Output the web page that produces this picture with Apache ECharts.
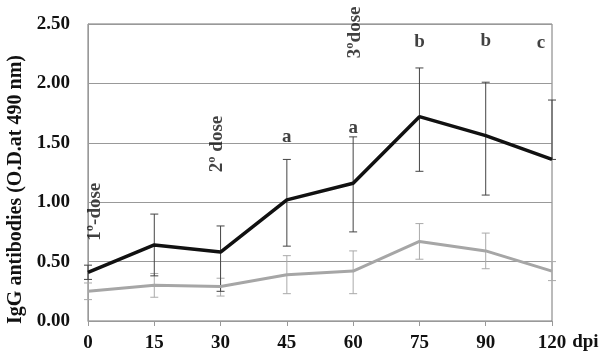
<!DOCTYPE html>
<html>
<head>
<meta charset="utf-8">
<script src="https://cdn.jsdelivr.net/npm/echarts@6/dist/echarts.min.js"></script>
<style>
  html, body { margin: 0; padding: 0; background: #fff; }
  #chart { width: 608px; height: 358px; }
</style>
</head>
<body>
<div id="chart"></div>
<script>
(function() {
  const days = ['0', '15', '30', '45', '60', '75', '90', '120'];

  // black curve (mean, lower, upper)
  const blackMean = [0.41, 0.64, 0.58, 1.02, 1.16, 1.72, 1.56, 1.36];
  const blackLow = [0.35, 0.38, 0.25, 0.63, 0.75, 1.26, 1.06, 1.36];
  const blackHigh = [0.47, 0.90, 0.80, 1.36, 1.55, 2.13, 2.01, 1.86];

  // gray curve (mean, lower, upper)
  const grayMean = [0.25, 0.30, 0.29, 0.39, 0.42, 0.67, 0.59, 0.42];
  const grayLow = [0.18, 0.20, 0.21, 0.23, 0.23, 0.52, 0.44, 0.34];
  const grayHigh = [0.32, 0.40, 0.36, 0.55, 0.59, 0.82, 0.74, 0.50];

  // significance letters
  const letterDays = ['45', '60', '75', '90', '120'];
  const letterText = ['a', 'a', 'b', 'b', 'c'];
  const letterY = [1.55, 1.62, 2.35, 2.36, 2.34];

  // dose annotations
  const doseDays = ['0', '30', '60'];
  const doseText = ['1º-dose', '2º dose', '3ºdose'];
  const doseY = [0.92, 1.49, 2.43];

  const serif = '"Liberation Serif", "DejaVu Serif", serif';
  const chart = echarts.init(document.getElementById('chart'));

  function errorBars(low, high, color) {
    return {
      type: 'custom',
      silent: true,
      z: 1,
      data: days.map((d, i) => [i, low[i], high[i]]),
      renderItem: function(params, api) {
        const lo = api.coord([api.value(0), api.value(1)]);
        const hi = api.coord([api.value(0), api.value(2)]);
        const w = 4;
        const style = { stroke: color, lineWidth: 1 };
        return {
          type: 'group',
          children: [
            { type: 'line', shape: { x1: lo[0], y1: lo[1], x2: hi[0], y2: hi[1] }, style: style },
            { type: 'line', shape: { x1: lo[0] - w, y1: lo[1], x2: lo[0] + w, y2: lo[1] }, style: style },
            { type: 'line', shape: { x1: hi[0] - w, y1: hi[1], x2: hi[0] + w, y2: hi[1] }, style: style }
          ]
        };
      }
    };
  }

  const option = {
    animation: false,
    backgroundColor: '#fff',
    grid: {
      left: 88, right: 56, top: 24, bottom: 37,
      outerBoundsMode: 'none',
      show: true, borderColor: '#777', borderWidth: 1
    },
    xAxis: {
      type: 'category',
      data: days,
      boundaryGap: false,
      name: 'dpi',
      nameLocation: 'end',
      nameGap: 8,
      nameTextStyle: {
        fontFamily: serif, fontWeight: 'bold', fontSize: 19, color: '#111',
        verticalAlign: 'top', padding: [12, 0, 0, 0]
      },
      axisLine: { lineStyle: { color: '#999' } },
      axisTick: { length: 5, lineStyle: { color: '#999' } },
      axisLabel: {
        fontFamily: serif, fontWeight: 'bold', fontSize: 19, color: '#111', margin: 13
      },
      splitLine: { show: false }
    },
    yAxis: {
      type: 'value',
      min: 0, max: 2.5, interval: 0.5,
      name: 'IgG antibodies (O.D.at 490 nm)',
      nameLocation: 'middle',
      nameGap: 62,
      nameTextStyle: {
        fontFamily: serif, fontWeight: 'bold', fontSize: 20, color: '#111',
        padding: [0, 34, 0, 0]
      },
      axisLine: { show: true, lineStyle: { color: '#999' } },
      axisTick: { show: false },
      axisLabel: {
        fontFamily: serif, fontWeight: 'bold', fontSize: 19, color: '#111', margin: 18,
        formatter: v => v.toFixed(2)
      },
      splitLine: { lineStyle: { color: '#999', width: 1 } }
    },
    series: [
      errorBars(grayLow, grayHigh, '#aaa'),
      errorBars(blackLow, blackHigh, '#444'),
      {
        type: 'line', data: grayMean, symbol: 'none', z: 3,
        lineStyle: { color: '#a6a6a6', width: 3 }
      },
      {
        type: 'line', data: blackMean, symbol: 'none', z: 4,
        lineStyle: { color: '#111', width: 3.5 }
      },
      {
        type: 'scatter', symbolSize: 0, silent: true, z: 5,
        data: letterDays.map((d, i) => ({
          value: [d, letterY[i]],
          label: { offset: d === '120' ? [-11, 0] : [0, 0] }
        })),
        label: {
          show: true, position: 'inside',
          formatter: p => letterText[p.dataIndex],
          fontFamily: serif, fontWeight: 'bold', fontSize: 19, color: '#111'
        }
      },
      {
        type: 'scatter', symbolSize: 0, silent: true, z: 5,
        data: doseDays.map((d, i) => ({
          value: [d, doseY[i]],
          label: { offset: [[0, 7], [0, -3], [0, 2]][i] }
        })),
        label: {
          show: true, position: 'inside', rotate: 90,
          formatter: p => doseText[p.dataIndex],
          fontFamily: serif, fontWeight: 'bold', fontSize: 19, color: '#111'
        }
      }
    ]
  };

  chart.setOption(option);
}());
</script>
</body>
</html>
